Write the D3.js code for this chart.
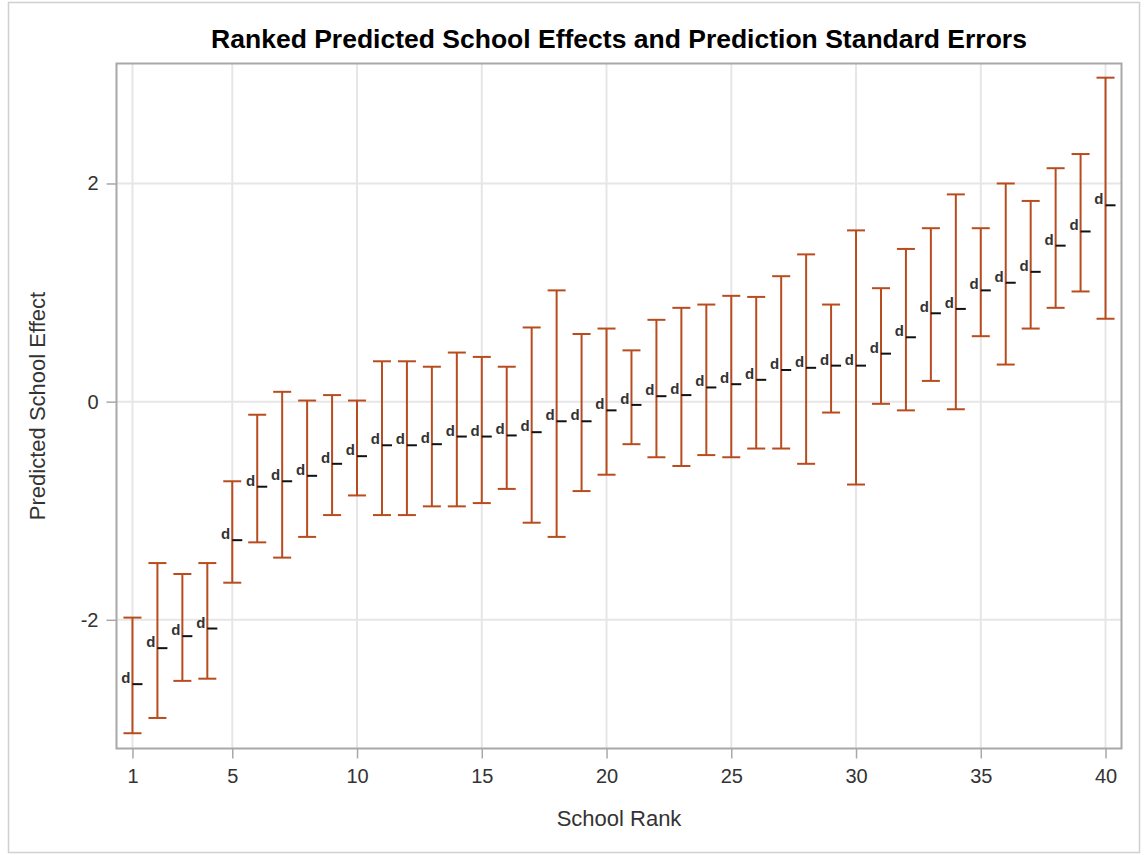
<!DOCTYPE html>
<html>
<head>
<meta charset="utf-8">
<script src="https://cdn.jsdelivr.net/npm/d3@7"></script>
<style>
  body { margin: 0; background: #fff; }
  text { font-family: "Liberation Sans", Arial, sans-serif; }
  .grid line { stroke: #e6e6e6; stroke-width: 2; }
  .axis line { stroke: #a8a8a8; stroke-width: 1.5; }
  .axis text { font-size: 20px; fill: #333; }
</style>
</head>
<body>
<div id="graph"></div>
<script>
// school rank, predicted effect and error bar limits
let ranks = d3.range(1, 41);
let effect = [-2.59, -2.26, -2.15, -2.08, -1.27, -0.78, -0.73, -0.68, -0.57, -0.50,
              -0.40, -0.40, -0.39, -0.32, -0.32, -0.31, -0.28, -0.18, -0.18, -0.08,
              -0.03, 0.05, 0.06, 0.13, 0.16, 0.20, 0.29, 0.31, 0.33, 0.33,
              0.44, 0.59, 0.81, 0.85, 1.02, 1.09, 1.19, 1.43, 1.56, 1.80];
let lower = [-3.04, -2.90, -2.56, -2.54, -1.66, -1.29, -1.43, -1.24, -1.04, -0.86,
             -1.04, -1.04, -0.96, -0.96, -0.93, -0.80, -1.11, -1.24, -0.82, -0.67,
             -0.39, -0.51, -0.59, -0.49, -0.51, -0.43, -0.43, -0.57, -0.10, -0.76,
             -0.02, -0.08, 0.19, -0.07, 0.60, 0.34, 0.67, 0.86, 1.01, 0.76];
let upper = [-1.98, -1.48, -1.58, -1.48, -0.73, -0.12, 0.09, 0.01, 0.06, 0.01,
             0.37, 0.37, 0.32, 0.45, 0.41, 0.32, 0.68, 1.02, 0.62, 0.67,
             0.47, 0.75, 0.86, 0.89, 0.97, 0.96, 1.15, 1.35, 0.89, 1.57,
             1.04, 1.40, 1.59, 1.90, 1.59, 2.00, 1.84, 2.14, 2.27, 2.97];
let xTicks = [1, 5, 10, 15, 20, 25, 30, 35, 40];
let yTicks = [-2, 0, 2];

let data = ranks.map((r, i) => ({rank: r, effect: effect[i], lower: lower[i], upper: upper[i]}));

let width = 1144,
    height = 855;
let plotLeft = 116.5, plotRight = 1121.5, plotTop = 63.5, plotBottom = 748.5;
let barColor = "#b84c1e";

let x = d3.scaleLinear().domain([0.36, 40.64]).range([plotLeft, plotRight]);
let y = d3.scaleLinear().domain([-3.18, 3.10]).range([plotBottom, plotTop]);

let svg = d3.select("#graph").append("svg")
    .attr("width", width)
    .attr("height", height);

// outer border
svg.append("rect")
    .attr("x", 8.5).attr("y", 2.5)
    .attr("width", 1131).attr("height", 850)
    .attr("fill", "#fff")
    .attr("stroke", "#d0d0d0")
    .attr("stroke-width", 1.5);

// grid
let grid = svg.append("g").attr("class", "grid");
grid.selectAll(".gx").data(xTicks).enter().append("line")
    .attr("x1", d => x(d)).attr("x2", d => x(d))
    .attr("y1", plotTop).attr("y2", plotBottom);
grid.selectAll(".gy").data(yTicks).enter().append("line")
    .attr("x1", plotLeft).attr("x2", plotRight)
    .attr("y1", d => y(d)).attr("y2", d => y(d));

// axes
svg.append("g")
    .attr("class", "axis")
    .attr("transform", "translate(0," + plotBottom + ")")
    .call(d3.axisBottom(x).tickValues(xTicks).tickSize(10).tickPadding(10))
    .call(g => g.select(".domain").remove());

svg.append("g")
    .attr("class", "axis")
    .attr("transform", "translate(" + plotLeft + ",0)")
    .call(d3.axisLeft(y).tickValues(yTicks).tickSize(10).tickPadding(8).tickFormat(d => String(d)))
    .call(g => g.select(".domain").remove());

// frame
svg.append("rect")
    .attr("x", plotLeft).attr("y", plotTop)
    .attr("width", plotRight - plotLeft).attr("height", plotBottom - plotTop)
    .attr("fill", "none")
    .attr("stroke", "#a8a8a8")
    .attr("stroke-width", 2);

// error bars
let bars = svg.append("g").selectAll("g")
    .data(data)
  .enter().append("g");

bars.append("line")
    .attr("x1", d => x(d.rank)).attr("x2", d => x(d.rank))
    .attr("y1", d => y(d.upper)).attr("y2", d => y(d.lower))
    .attr("stroke", barColor).attr("stroke-width", 2);

bars.append("line")
    .attr("x1", d => x(d.rank) - 9).attr("x2", d => x(d.rank) + 9)
    .attr("y1", d => y(d.upper)).attr("y2", d => y(d.upper))
    .attr("stroke", barColor).attr("stroke-width", 2);

bars.append("line")
    .attr("x1", d => x(d.rank) - 9).attr("x2", d => x(d.rank) + 9)
    .attr("y1", d => y(d.lower)).attr("y2", d => y(d.lower))
    .attr("stroke", barColor).attr("stroke-width", 2);

// predicted effect marker
bars.append("line")
    .attr("x1", d => x(d.rank)).attr("x2", d => x(d.rank) + 10)
    .attr("y1", d => y(d.effect)).attr("y2", d => y(d.effect))
    .attr("stroke", "#111").attr("stroke-width", 2);

bars.append("text")
    .attr("x", d => x(d.rank) - 2)
    .attr("y", d => y(d.effect) - 1)
    .attr("text-anchor", "end")
    .attr("font-size", "15px")
    .attr("font-weight", "bold")
    .attr("fill", "#333")
    .text("d");

// titles
svg.append("text")
    .attr("x", (plotLeft + plotRight) / 2)
    .attr("y", 48)
    .attr("text-anchor", "middle")
    .attr("font-size", "26.5px")
    .attr("font-weight", "bold")
    .attr("fill", "#000")
    .text("Ranked Predicted School Effects and Prediction Standard Errors");

svg.append("text")
    .attr("x", (plotLeft + plotRight) / 2)
    .attr("y", 826)
    .attr("text-anchor", "middle")
    .attr("font-size", "22px")
    .attr("fill", "#333")
    .text("School Rank");

svg.append("text")
    .attr("transform", "translate(45," + ((plotTop + plotBottom) / 2) + ") rotate(-90)")
    .attr("text-anchor", "middle")
    .attr("font-size", "22px")
    .attr("fill", "#333")
    .text("Predicted School Effect");
</script>
</body>
</html>
